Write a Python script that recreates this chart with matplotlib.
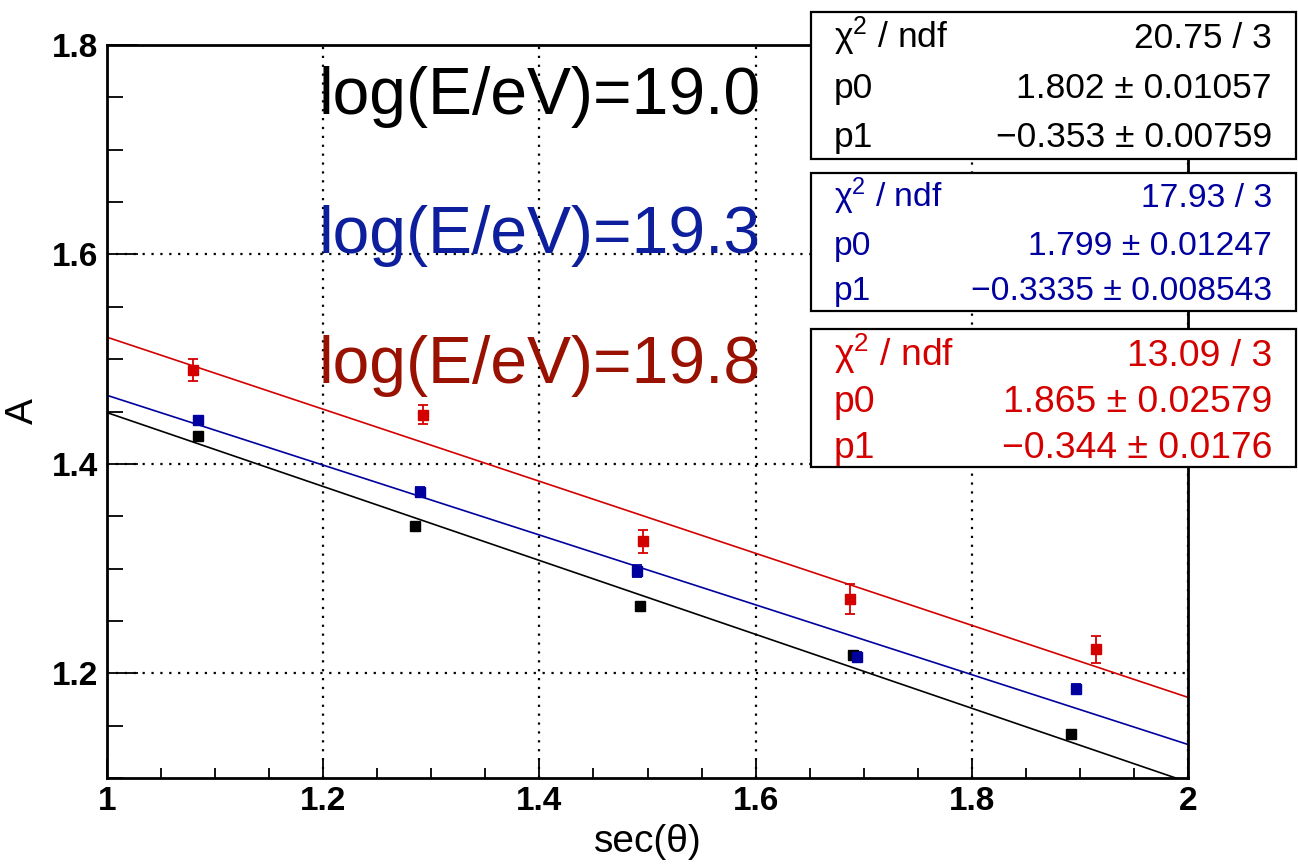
import matplotlib
matplotlib.use('Agg')
import matplotlib.pyplot as plt
import numpy as np
from matplotlib.patches import Rectangle
from matplotlib.ticker import MultipleLocator

plt.rcParams['font.family'] = ['Liberation Sans', 'DejaVu Sans']
plt.rcParams['mathtext.fontset'] = 'custom'
plt.rcParams['mathtext.rm'] = 'Liberation Sans'
plt.rcParams['mathtext.it'] = 'Liberation Sans:italic'

# data
x_black = [1.084, 1.285, 1.493, 1.690, 1.892]
y_black = [1.427, 1.341, 1.264, 1.2175, 1.142]
e_black = [0.002, 0.002, 0.002, 0.003, 0.004]

x_blue = [1.084, 1.290, 1.490, 1.694, 1.896]
y_blue = [1.442, 1.373, 1.2975, 1.216, 1.185]
e_blue = [0.004, 0.005, 0.006, 0.004, 0.005]

x_red = [1.080, 1.292, 1.496, 1.687, 1.915]
y_red = [1.490, 1.447, 1.326, 1.271, 1.223]
e_red = [0.0105, 0.009, 0.0113, 0.0143, 0.0127]

# fit results
chi2 = ['20.75 / 3', '17.93 / 3', '13.09 / 3']
p0 = [1.802, 1.799, 1.865]
p0_err = ['0.01057', '0.01247', '0.02579']
p1 = [-0.353, -0.3335, -0.344]
p1_err = ['0.00759', '0.008543', '0.0176']
labels = ['log(E/eV)=19.0', 'log(E/eV)=19.3', 'log(E/eV)=19.8']

mark_col = ['black', '#00009f', '#d40000']
text_col = ['black', '#0d1f9c', '#991100']

fig = plt.figure(figsize=(12.98, 8.66), dpi=100)
ax = fig.add_axes([0.0824, 0.1016, 0.8329, 0.8464])

xs = [x_black, x_blue, x_red]
ys = [y_black, y_blue, y_red]
es = [e_black, e_blue, e_red]
xl = np.array([1.0, 2.0])
for i in range(3):
    ax.plot(xl, p0[i] + p1[i] * xl, color=mark_col[i], lw=1.2, zorder=2)
    ax.errorbar(xs[i], ys[i], yerr=es[i], fmt='s', color=mark_col[i], ms=7.4,
                elinewidth=1.3, capsize=3.5, capthick=1.3, zorder=3)

ax.set_xlim(1, 2)
ax.set_ylim(1.1, 1.8)
ax.xaxis.set_major_locator(MultipleLocator(0.2))
ax.xaxis.set_minor_locator(MultipleLocator(0.05))
ax.yaxis.set_major_locator(MultipleLocator(0.2))
ax.yaxis.set_minor_locator(MultipleLocator(0.05))
ax.set_xticks([1, 1.2, 1.4, 1.6, 1.8, 2])
ax.set_xticklabels(['1', '1.2', '1.4', '1.6', '1.8', '2'])
ax.set_yticks([1.2, 1.4, 1.6, 1.8])
ax.set_yticklabels(['1.2', '1.4', '1.6', '1.8'])
ax.grid(True, which='major', color='black', linestyle=(0, (1, 3)), lw=1.6)
ax.tick_params(axis='both', which='both', direction='in', labelsize=24, width=1.3)
ax.tick_params(axis='y', which='major', length=22, pad=6)
ax.tick_params(axis='y', which='minor', length=11.5)
ax.tick_params(axis='x', which='major', length=14, pad=6)
ax.tick_params(axis='x', which='minor', length=7)
for lab in ax.get_xticklabels() + ax.get_yticklabels():
    lab.set_fontweight('bold')
for s in ax.spines.values():
    s.set_linewidth(2)

ax.set_xlabel('sec(θ)', fontsize=28, labelpad=5)
ax.set_ylabel('A', fontsize=28, labelpad=8)

label_y = [1.734, 1.601, 1.477]
for i in range(3):
    ax.text(1.196, label_y[i], labels[i], color=text_col[i], fontsize=47.5,
            ha='left', va='baseline', zorder=4)

# stat boxes (pixel positions in the 1298x866 canvas)
W, H = 1298.0, 866.0
boxes = [(12, 159), (173, 311), (329, 467)]
baselines = [(48, 98, 147), (207, 255, 300), (366, 412, 458)]
box_fs = [25.5, 24.2, 26.8]
for i in range(3):
    top, bot = boxes[i]
    fig.patches.append(Rectangle((811 / W, 1 - bot / H), (1296 - 811) / W, (bot - top) / H,
                                 transform=fig.transFigure, facecolor='white',
                                 edgecolor='black', lw=1.6, zorder=10))
    c = mark_col[i]
    rows = [(r'$\mathrm{\chi}^{2}$ / ndf', chi2[i]),
            ('p0', '%s ± %s' % (str(p0[i]), p0_err[i])),
            ('p1', '%s ± %s' % (str(p1[i]).replace('-', '−'), p1_err[i]))]
    for j, (left, right) in enumerate(rows):
        yb = 1 - baselines[i][j] / H
        fig.text(834 / W, yb, left, color=c, fontsize=box_fs[i], ha='left', va='baseline', zorder=11)
        fig.text(1272 / W, yb, right, color=c, fontsize=box_fs[i], ha='right', va='baseline', zorder=11)

fig.savefig('out.png', dpi=100)
